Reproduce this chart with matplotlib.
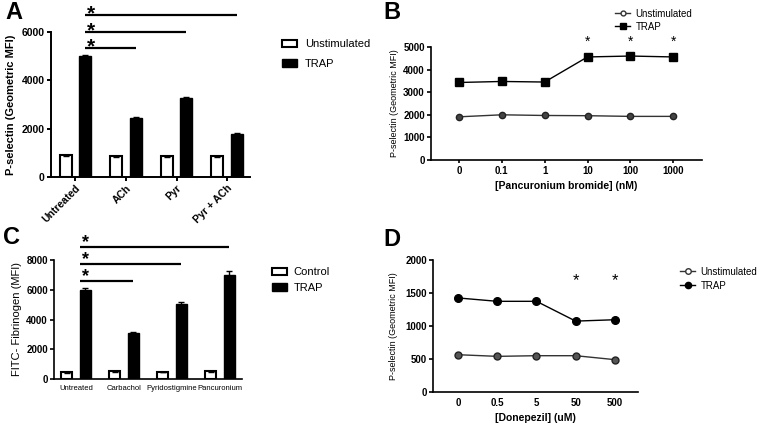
import matplotlib
matplotlib.use("Agg")
import matplotlib.pyplot as plt
import numpy as np
from matplotlib.patches import Patch
from matplotlib.lines import Line2D

plt.rcParams['font.family'] = ['Liberation Sans', 'DejaVu Sans']

# ---------------- data ----------------
a_categories = ["Untreated", "ACh", "Pyr", "Pyr + ACh"]
a_unstim = [900, 860, 860, 860]
a_unstim_err = [30, 20, 20, 20]
a_trap = [5020, 2440, 3270, 1760]
a_trap_err = [40, 30, 40, 50]
a_sig_end = [1, 2, 3]
a_sig_y = [5340, 6000, 6710]

b_doses = ["0", "0.1", "1", "10", "100", "1000"]
b_unstim = [1910, 2000, 1970, 1960, 1930, 1930]
b_trap = [3430, 3475, 3450, 4560, 4600, 4560]
b_trap_err = [40, 40, 40, 50, 50, 40]
b_sig_idx = [3, 4, 5]
b_sig_y = 5220

c_categories = ["Untreated", "Carbachol", "Pyridostigmine", "Pancuronium"]
c_control = [450, 520, 470, 530]
c_control_err = [40, 40, 30, 40]
c_trap = [5950, 3080, 5060, 6990]
c_trap_err = [150, 50, 150, 250]
c_sig_end = [1, 2, 3]
c_sig_y = [6560, 7750, 8850]

d_doses = ["0", "0.5", "5", "50", "500"]
d_unstim = [565, 540, 550, 550, 490]
d_trap = [1425, 1374, 1374, 1074, 1095]
d_trap_err = [30, 15, 15, 15, 15]
d_sig_idx = [3, 4]
d_sig_y = 1680

W, H = 759, 429
fig = plt.figure(figsize=(W / 100, H / 100), dpi=100)


def rect(l, r, t, b):
    return [l / W, (H - b) / H, (r - l) / W, (b - t) / H]


def style_axes(ax, lw=1.2):
    ax.spines['top'].set_visible(False)
    ax.spines['right'].set_visible(False)
    ax.spines['left'].set_linewidth(lw)
    ax.spines['bottom'].set_linewidth(lw)
    ax.tick_params(width=lw, length=3, pad=1.5)


# ---------------- Panel A ----------------
axA = fig.add_axes(rect(51, 250, 32, 177))
x = np.arange(len(a_categories))
bw, off = 0.24, 0.19
axA.bar(x - off, a_unstim, bw, yerr=a_unstim_err, color='white', edgecolor='black',
        linewidth=1.5, capsize=2, error_kw=dict(elinewidth=1, capthick=1))
axA.bar(x + off, a_trap, bw, yerr=a_trap_err, color='black', edgecolor='black',
        linewidth=1.0, capsize=2, error_kw=dict(elinewidth=1, capthick=1))
axA.set_xlim(-0.485, 3.455)
axA.set_ylim(0, 6000)
axA.set_yticks([0, 2000, 4000, 6000])
axA.set_xticks(x)
axA.set_xticklabels(a_categories, rotation=45, ha='right', rotation_mode='anchor',
                    fontsize=7.5, fontweight='bold')
for lab in axA.get_yticklabels():
    lab.set_fontsize(7.5)
    lab.set_fontweight('bold')
style_axes(axA, 1.4)
axA.set_ylabel("P-selectin (Geometric MFI)", fontsize=8, fontweight='bold', labelpad=4)
for end, yv in zip(a_sig_end, a_sig_y):
    axA.plot([0 + off, end + off], [yv, yv], color='black', lw=1.6, clip_on=False,
             solid_capstyle='butt')
    axA.annotate("*", xy=(0 + off, yv), xytext=(4.5, -3.5), textcoords='offset points',
                 ha='center', va='baseline', fontsize=15, fontweight='bold',
                 annotation_clip=False)
fig.legend(handles=[Patch(facecolor='white', edgecolor='black', linewidth=1.5, label='Unstimulated'),
                    Patch(facecolor='black', edgecolor='black', label='TRAP')],
           loc='upper left', bbox_to_anchor=(278 / W, 1 - 35 / H), frameon=False,
           fontsize=8, handlelength=1.3, handleheight=0.7, handletextpad=0.7,
           labelspacing=0.85, borderaxespad=0)
fig.text(5 / W, 1 - 1 / H, "A", fontsize=17, fontweight='bold', va='top', ha='left')

# ---------------- Panel B ----------------
axB = fig.add_axes(rect(431, 702, 47, 160))
xb = np.arange(len(b_doses))
axB.plot(xb, b_unstim, color='#333333', lw=1.0, marker='o', markersize=4.5,
         markerfacecolor='#444444', markeredgecolor='#222222')
axB.errorbar(xb, b_trap, yerr=b_trap_err, color='black', lw=1.0, marker='s',
             markersize=5.5, capsize=1.5, elinewidth=0.8)
axB.set_xlim(-0.65, 5.67)
axB.set_ylim(0, 5000)
axB.set_yticks(range(0, 5001, 1000))
axB.set_xticks(xb)
axB.set_xticklabels(b_doses)
for lab in axB.get_xticklabels() + axB.get_yticklabels():
    lab.set_fontsize(7)
    lab.set_fontweight('bold')
style_axes(axB, 1.2)
axB.tick_params(axis='x', length=2, pad=2)
axB.set_ylabel("P-selectin (Geometric MFI)", fontsize=6.5, labelpad=3)
axB.set_xlabel("[Pancuronium bromide] (nM)", fontsize=7.5, fontweight='bold', labelpad=4)
for i in b_sig_idx:
    axB.text(xb[i], b_sig_y, "*", ha='center', va='center', fontsize=10, clip_on=False)
fig.legend(handles=[Line2D([], [], color='#333333', lw=1, marker='o', markersize=3.5,
                           markerfacecolor='white', markeredgecolor='#333333', label='Unstimulated'),
                    Line2D([], [], color='black', lw=1, marker='s', markersize=4, label='TRAP')],
           loc='upper left', bbox_to_anchor=(611 / W, 1 - 5 / H), frameon=False,
           fontsize=7, handlelength=1.6, handletextpad=0.5, labelspacing=0.3,
           borderaxespad=0)
fig.text(383 / W, 1 - 1 / H, "B", fontsize=17, fontweight='bold', va='top', ha='left')

# ---------------- Panel C ----------------
axC = fig.add_axes(rect(54, 242, 260, 379))
xc = np.arange(len(c_categories))
bwc, offc = 0.23, 0.19
axC.bar(xc - offc, c_control, bwc, yerr=c_control_err, color='white', edgecolor='black',
        linewidth=1.5, capsize=2, error_kw=dict(elinewidth=1, capthick=1))
axC.bar(xc + offc, c_trap, bwc, yerr=c_trap_err, color='black', edgecolor='black',
        linewidth=1.0, capsize=2, error_kw=dict(elinewidth=1, capthick=1))
axC.set_xlim(-0.46, 3.46)
axC.set_ylim(0, 8000)
axC.set_yticks(range(0, 8001, 2000))
axC.set_xticks(xc)
axC.set_xticklabels(c_categories, fontsize=5.5)
for lab in axC.get_yticklabels():
    lab.set_fontsize(7)
    lab.set_fontweight('bold')
style_axes(axC, 1.2)
axC.tick_params(axis='x', length=0, pad=4)
axC.set_ylabel("FITC- Fibrinogen (MFI)", fontsize=8, labelpad=3)
for end, yv in zip(c_sig_end, c_sig_y):
    axC.plot([0 + offc - 0.1, end + offc], [yv, yv], color='black', lw=1.6, clip_on=False,
             solid_capstyle='butt')
    axC.annotate("*", xy=(0 + offc - 0.1, yv), xytext=(4, -3), textcoords='offset points',
                 ha='center', va='bottom', fontsize=13, fontweight='bold',
                 annotation_clip=False)
fig.legend(handles=[Patch(facecolor='white', edgecolor='black', linewidth=1.5, label='Control'),
                    Patch(facecolor='black', edgecolor='black', label='TRAP')],
           loc='upper left', bbox_to_anchor=(268 / W, 1 - 263 / H), frameon=False,
           fontsize=8, handlelength=1.3, handleheight=0.7, handletextpad=0.6,
           labelspacing=0.5, borderaxespad=0)
fig.text(3 / W, 1 - 226 / H, "C", fontsize=17, fontweight='bold', va='top', ha='left')

# ---------------- Panel D ----------------
axD = fig.add_axes(rect(433, 638, 260, 392))
xd = np.arange(len(d_doses))
axD.plot(xd, d_unstim, color='#333333', lw=1.0, marker='o', markersize=5,
         markerfacecolor='#555555', markeredgecolor='#222222')
axD.errorbar(xd, d_trap, yerr=d_trap_err, color='black', lw=1.0, marker='o',
             markersize=5.5, capsize=1.5, elinewidth=0.8)
axD.set_xlim(-0.64, 4.59)
axD.set_ylim(0, 2000)
axD.set_yticks(range(0, 2001, 500))
axD.set_xticks(xd)
axD.set_xticklabels(d_doses)
for lab in axD.get_xticklabels() + axD.get_yticklabels():
    lab.set_fontsize(7)
    lab.set_fontweight('bold')
style_axes(axD, 1.2)
axD.tick_params(axis='x', length=0, pad=4)
axD.set_ylabel("P-selectin (Geometric MFI)", fontsize=6.5, labelpad=5)
axD.set_xlabel("[Donepezil] (uM)", fontsize=7.5, fontweight='bold', labelpad=4)
for i in d_sig_idx:
    axD.text(xd[i], d_sig_y, "*", ha='center', va='center', fontsize=12, clip_on=False)
fig.legend(handles=[Line2D([], [], color='#333333', lw=1, marker='o', markersize=4,
                           markerfacecolor='white', markeredgecolor='#333333', label='Unstimulated'),
                    Line2D([], [], color='black', lw=1, marker='o', markersize=4.5, label='TRAP')],
           loc='upper left', bbox_to_anchor=(676 / W, 1 - 263 / H), frameon=False,
           fontsize=7, handlelength=1.6, handletextpad=0.5, labelspacing=0.4,
           borderaxespad=0)
fig.text(383 / W, 1 - 228 / H, "D", fontsize=17, fontweight='bold', va='top', ha='left')

fig.savefig("out.png", dpi=100)
